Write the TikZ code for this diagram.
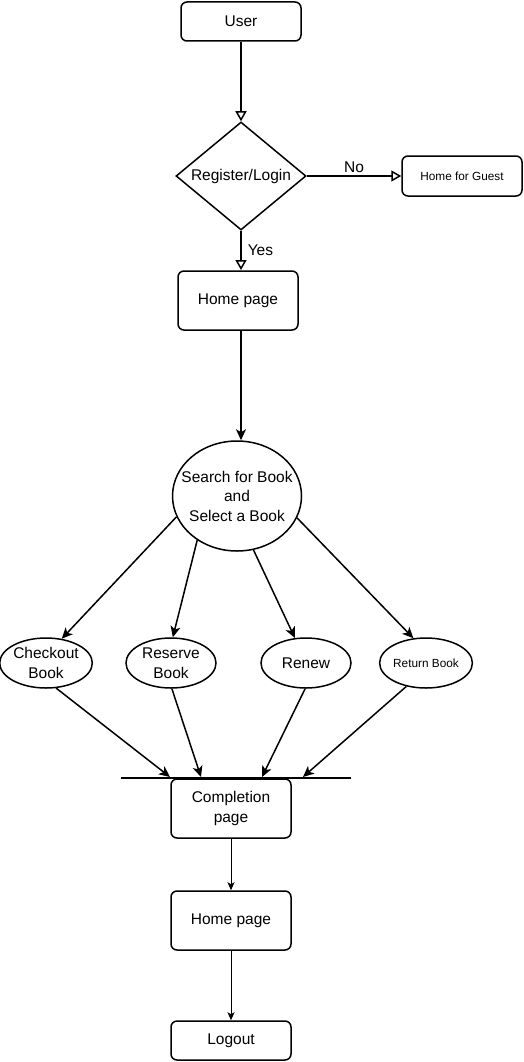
\documentclass[tikz,border=0pt]{standalone}
\usepackage{fontspec}
\setmainfont{Liberation Sans}
\usetikzlibrary{shapes.geometric,arrows.meta}
\begin{document}
\begin{tikzpicture}[x=1pt,y=-1pt,
  every node/.style={font=\fontsize{15.5}{19.5}\selectfont, align=center, inner sep=0pt},
  box/.style={draw, line width=1.5pt, rounded corners=6pt, minimum width=120pt},
  dia/.style={draw, line width=1.5pt, diamond, aspect=1.2, minimum width=130pt, minimum height=108pt, inner sep=0pt},
  ell/.style={draw, line width=1.5pt, ellipse, minimum width=90pt, minimum height=50pt},
  openarr/.style={line width=1.5pt, -{Triangle[open,length=10pt,width=11pt]}},
  fillarr/.style={line width=1.5pt, -{Stealth[length=11pt,width=10pt,inset=3pt]}},
  thinarr/.style={line width=1pt, -{Stealth[length=8pt,width=7pt,inset=2pt]}},
  small/.style={font=\fontsize{11.8}{14}\selectfont},
  lbl/.style={font=\fontsize{15.5}{19.5}\selectfont}
]
\useasboundingbox (0,0) rectangle (523,1062);

\node[box, minimum height=39pt] (user) at (241,21.5) {User};
\node[dia] (reg) at (241,176) {Register/Login};
\node[box, small, minimum height=40pt] (guest) at (462,176) {Home for Guest};
\node[box, minimum height=59pt] (home1) at (238,300.5) {Home page};
\node[draw, line width=1.5pt, ellipse, inner xsep=-11pt, minimum width=129pt, minimum height=110pt] (search) at (237,496) {Search for Book\\and\\Select a Book};

\node[ell] (checkout) at (46,663) {Checkout\\Book};
\node[ell] (reserve) at (171,663) {Reserve\\Book};
\node[ell] (renew) at (306,663) {Renew};
\node[ell, small] (return) at (426,663) {Return Book};

\node[box, minimum height=59pt] (complete) at (231,808.5) {Completion\\page};
\node[box, minimum height=59pt] (home2) at (231,920.5) {Home page};
\node[box, minimum height=39pt] (logout) at (231,1040.5) {Logout};

% bar
\coordinate (barL) at (121,778);
\coordinate (barR) at (351,778);
\draw[line width=1.5pt] (barL) -- (barR);
\coordinate (e1) at (170,777);
\coordinate (e2) at (201,777);
\coordinate (e3) at (262,777);
\coordinate (e4) at (303,777);

% connectors
\draw[openarr] (user.south) -- (reg.north);
\draw[openarr] (reg.east) -- (guest.west) node[midway, above=3pt, lbl] {No};
\draw[openarr] (reg.south) -- (241,270) node[midway, right=6pt, lbl] {Yes};
\draw[fillarr] ([xshift=3pt]home1.south) -- ([xshift=4pt]search.north);

\draw[fillarr] (search.199) -- (checkout.57);
\draw[fillarr] (search.228) -- (reserve.86);
\draw[fillarr] (search.287) -- (renew.114);
\draw[fillarr] (search.340) -- (return.117);

\draw[fillarr] (checkout.292) -- (e1);
\draw[fillarr] (reserve.272) -- (e2);
\draw[fillarr] (renew.268) -- (e3);
\draw[fillarr] (return.230) -- (e4);

\draw[thinarr] (complete.south) -- (home2.north);
\draw[thinarr] (home2.south) -- (logout.north);
\end{tikzpicture}
\end{document}
